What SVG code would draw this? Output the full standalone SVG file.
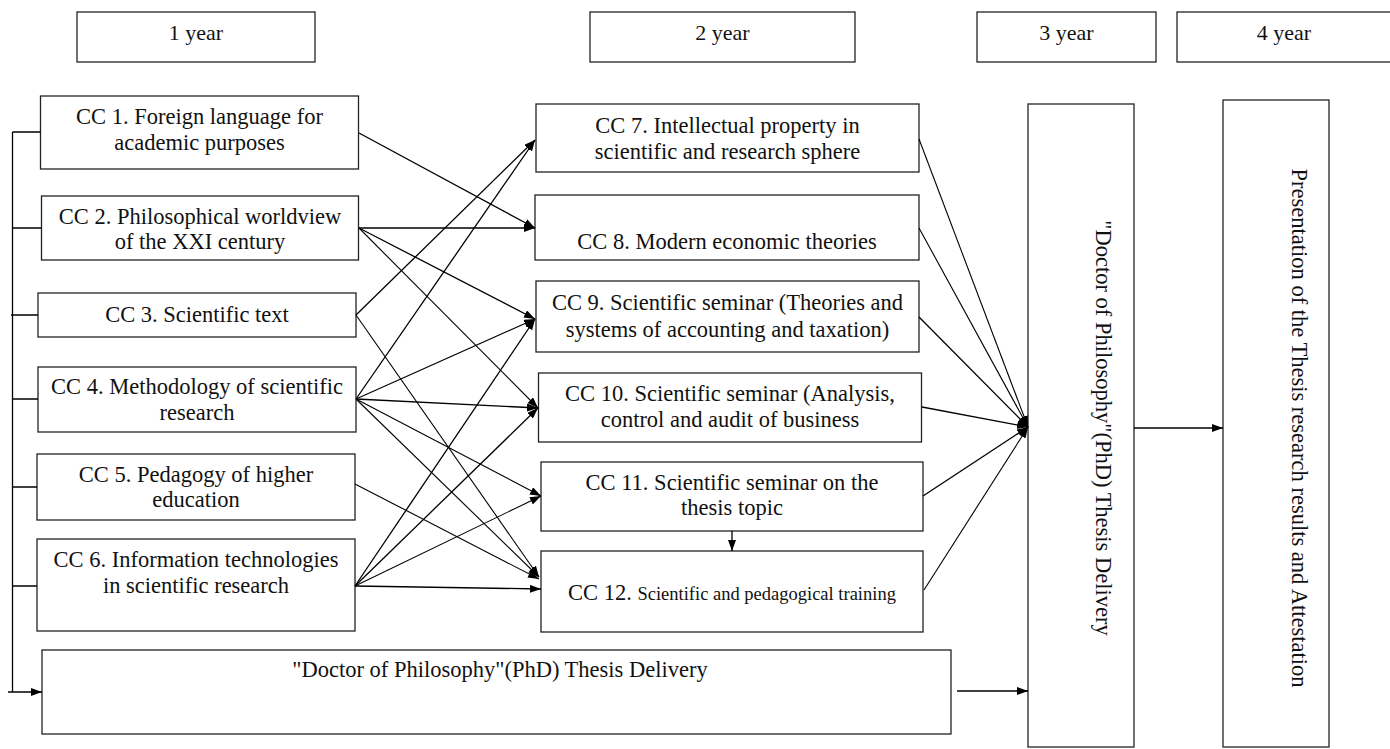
<svg xmlns="http://www.w3.org/2000/svg" width="1390" height="749" viewBox="0 0 1390 749">
<style>
  .box { fill: #ffffff; stroke: #222222; stroke-width: 1.3; }
  .t { font-family: "Liberation Serif", "Times New Roman", serif; font-size: 22.5px; fill: #111111; text-anchor: middle; }
  .h { font-family: "Liberation Serif", "Times New Roman", serif; font-size: 22px; fill: #111111; text-anchor: middle; }
  .c { fill: none; stroke: #000000; stroke-width: 1.3; }
  .cn { fill: none; stroke: #000000; stroke-width: 1.1; }
  .a { marker-end: url(#arr); }
</style>
<defs>
  <marker id="arr" markerUnits="userSpaceOnUse" markerWidth="12" markerHeight="10" refX="11" refY="4" orient="auto">
    <path d="M0,0 L11,4 L0,8 z" fill="#000000"/>
  </marker>
</defs>
<rect width="1390" height="749" fill="#ffffff"/>

<g id="headers">
  <g id="h1"><rect class="box" x="77" y="12" width="238" height="50"/><text class="h" x="196" y="40">1 year</text></g>
  <g id="h2"><rect class="box" x="590" y="12" width="265" height="50"/><text class="h" x="722.5" y="40">2 year</text></g>
  <g id="h3"><rect class="box" x="977" y="12" width="179" height="50"/><text class="h" x="1066.5" y="40">3 year</text></g>
  <g id="h4"><rect class="box" x="1177" y="12" width="215" height="50"/><text class="h" x="1284" y="40">4 year</text></g>
</g>

<g id="cc1"><rect class="box" x="40.5" y="96" width="318" height="73"/>
  <text class="t" x="199.5" y="124">CC 1. Foreign language for</text>
  <text class="t" x="199.5" y="149.5">academic purposes</text></g>
<g id="cc2"><rect class="box" x="41.5" y="196" width="317" height="64"/>
  <text class="t" x="200" y="223.5">CC 2. Philosophical worldview</text>
  <text class="t" x="200" y="248.5">of the XXI century</text></g>
<g id="cc3"><rect class="box" x="38" y="293" width="318" height="44"/>
  <text class="t" x="197" y="321.5">CC 3. Scientific text</text></g>
<g id="cc4"><rect class="box" x="38" y="367" width="318" height="65"/>
  <text class="t" x="197" y="393.5">CC 4. Methodology of scientific</text>
  <text class="t" x="197" y="419.5">research</text></g>
<g id="cc5"><rect class="box" x="37" y="454" width="318" height="66"/>
  <text class="t" x="196" y="481.5">CC 5. Pedagogy of higher</text>
  <text class="t" x="196" y="506.5">education</text></g>
<g id="cc6"><rect class="box" x="37" y="539" width="318" height="92"/>
  <text class="t" x="196" y="567">CC 6. Information technologies</text>
  <text class="t" x="196" y="593">in scientific research</text></g>
<g id="thesis1"><rect class="box" x="42" y="650" width="909" height="84"/>
  <text class="t" x="500" y="677">"Doctor of Philosophy"(PhD) Thesis Delivery</text></g>

<g id="cc7"><rect class="box" x="536" y="104" width="383" height="68"/>
  <text class="t" x="727.5" y="133">CC 7. Intellectual property in</text>
  <text class="t" x="727.5" y="159">scientific and research sphere</text></g>
<g id="cc8"><rect class="box" x="535" y="195" width="384" height="65"/>
  <text class="t" x="727" y="248.5">CC 8. Modern economic theories</text></g>
<g id="cc9"><rect class="box" x="536" y="281" width="383" height="71"/>
  <text class="t" x="727.5" y="310">CC 9. Scientific seminar (Theories and</text>
  <text class="t" x="727.5" y="336.5">systems of accounting and taxation)</text></g>
<g id="cc10"><rect class="box" x="538.5" y="373" width="383" height="69"/>
  <text class="t" x="730" y="400.5">CC 10. Scientific seminar (Analysis,</text>
  <text class="t" x="730" y="426.5">control and audit of business</text></g>
<g id="cc11"><rect class="box" x="541" y="462" width="382" height="69"/>
  <text class="t" x="732" y="490">CC 11. Scientific seminar on the</text>
  <text class="t" x="732" y="515">thesis topic</text></g>
<g id="cc12"><rect class="box" x="541" y="551" width="382" height="81"/>
  <text class="t" x="732" y="600">CC 12. <tspan font-size="18.5px">Scientific and pedagogical training</tspan></text></g>

<g id="thesisA"><rect class="box" x="1028" y="104" width="106" height="643"/>
  <text class="t" transform="translate(1096,428) rotate(90)" x="0" y="0">"Doctor of Philosophy"(PhD) Thesis Delivery</text></g>
<g id="attest"><rect class="box" x="1223" y="100" width="106" height="647"/>
  <text class="t" transform="translate(1292,428) rotate(90)" x="0" y="0">Presentation of the Thesis research results and Attestation</text></g>

<g id="connectors">
  <!-- left bus -->
  <path class="c" d="M12.5,132 V692"/>
  <path class="c" d="M12.5,132 H40.5 M12.5,228 H41.5 M11,315 H38 M12.5,399 H38 M12.5,487 H37 M12.5,586 H37"/>
  <path class="c a" d="M8,692 H42"/>
  <!-- year 1 to year 2 -->
  <path class="c a" d="M359,133 L535,228"/>
  <path class="c a" d="M359,228 L535,228"/>
  <path class="c a" d="M359,228 L535,319"/>
  <path class="cn a" d="M359,228 L538,408"/>
  <path class="c a" d="M356,315 L535,140"/>
  <path class="cn a" d="M356,315 L539,577"/>
  <path class="c a" d="M356,399 L535,140"/>
  <path class="cn a" d="M356,399 L535,319"/>
  <path class="c a" d="M356,399 L538,408"/>
  <path class="cn a" d="M356,399 L541,496"/>
  <path class="cn a" d="M356,399 L539,577"/>
  <path class="cn a" d="M355,484 L539,579"/>
  <path class="c a" d="M355,586 L535,319"/>
  <path class="c a" d="M355,586 L538,408"/>
  <path class="cn a" d="M355,586 L541,496"/>
  <path class="c a" d="M355,586 L541,589"/>
  <!-- CC11 to CC12 -->
  <path class="c a" d="M732,531 V551"/>
  <!-- year 2 to thesis -->
  <path class="cn a" d="M919,139 L1028,427"/>
  <path class="cn a" d="M919,228 L1028,427"/>
  <path class="c a" d="M919,317 L1028,427"/>
  <path class="c a" d="M922,407 L1028,427"/>
  <path class="c a" d="M923,496 L1028,427"/>
  <path class="cn a" d="M924,590 L1028,427"/>
  <path class="c a" d="M957,691 H1028"/>
  <path class="c a" d="M1134,428 H1223"/>
</g>
</svg>
